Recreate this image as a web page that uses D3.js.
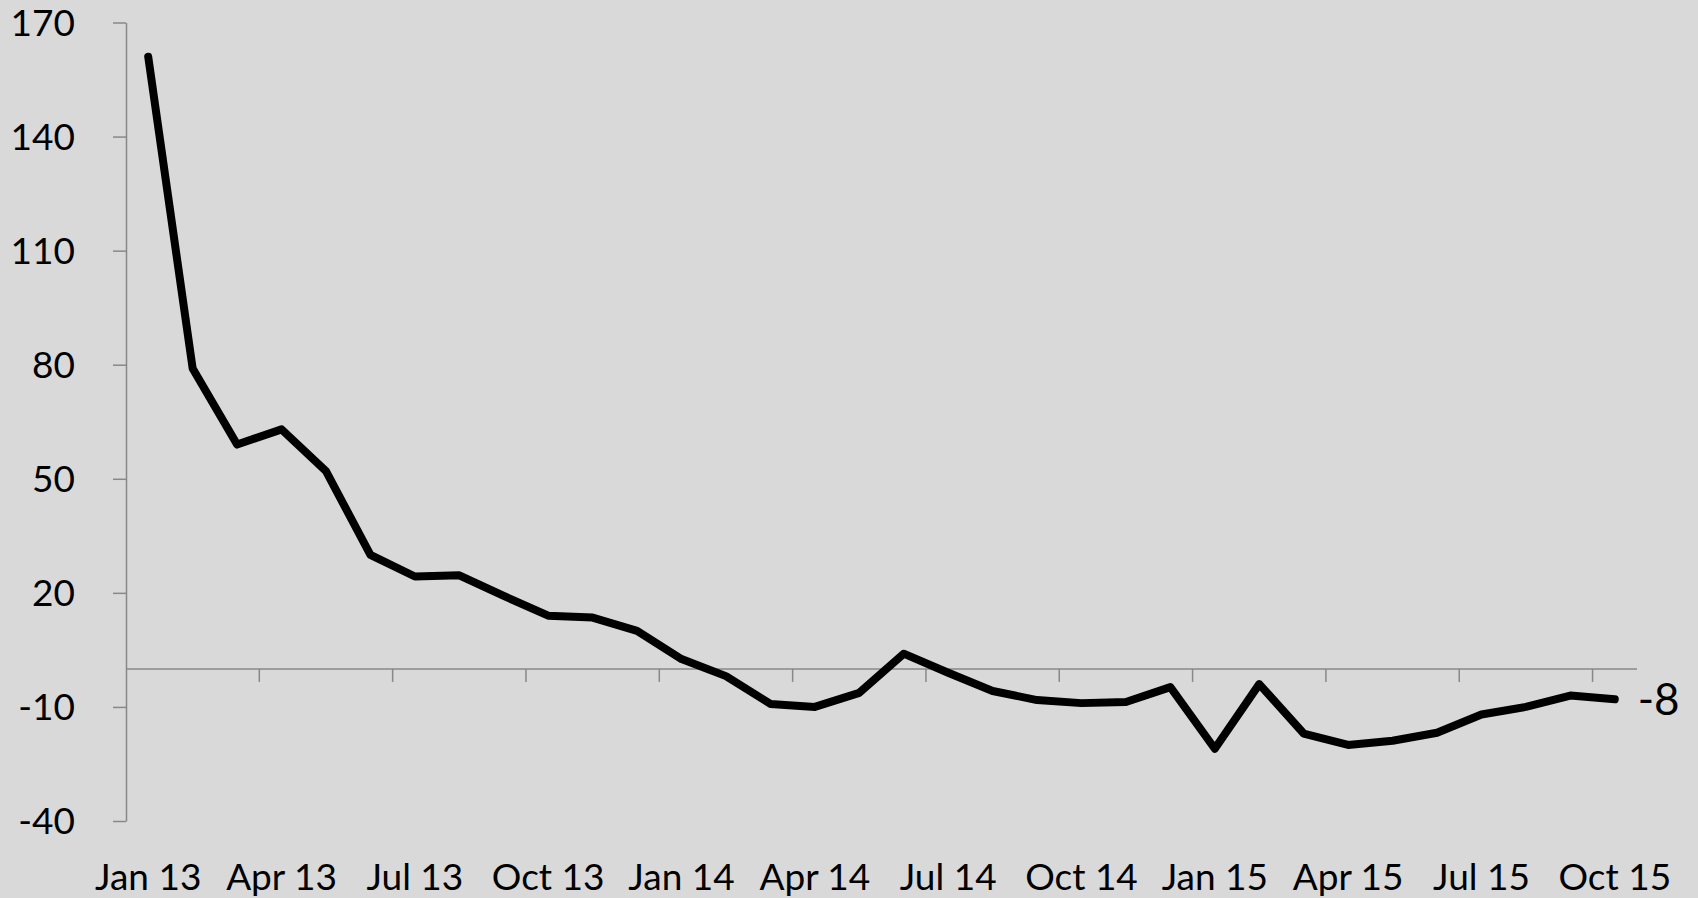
<!DOCTYPE html>
<html>
<head>
<meta charset="utf-8">
<script src="https://cdn.jsdelivr.net/npm/d3@7"></script>
<style>
	html, body { margin: 0; padding: 0; background: #d9d9d9; }
	svg { display: block; }
	text { font-family: Lato, "Open Sans", sans-serif; fill: #000; }
</style>
</head>
<body>
<div id="chart"></div>
<script>
// monthly categories, Jan 13 .. Oct 15
var months = [
	"Jan 13", "Feb 13", "Mar 13", "Apr 13", "May 13", "Jun 13", "Jul 13", "Aug 13", "Sep 13", "Oct 13", "Nov 13", "Dec 13",
	"Jan 14", "Feb 14", "Mar 14", "Apr 14", "May 14", "Jun 14", "Jul 14", "Aug 14", "Sep 14", "Oct 14", "Nov 14", "Dec 14",
	"Jan 15", "Feb 15", "Mar 15", "Apr 15", "May 15", "Jun 15", "Jul 15", "Aug 15", "Sep 15", "Oct 15"
];

var values = [
	161, 79, 59, 63, 52, 30, 24.3, 24.6, 19.2, 14, 13.5, 10,
	2.6, -1.9, -9.2, -10, -6.3, 4, -1, -5.8, -8.2, -9, -8.7, -4.8,
	-21, -4, -17, -20, -18.9, -16.8, -12, -10, -7, -8
];

var yTicks = [-40, -10, 20, 50, 80, 110, 140, 170];
var labelEvery = 3;

var width = 1698, height = 898;

// plain hyphen minus, like the original
function fmt(v) {
	return String(Math.round(v));
}

var svg = d3.select("#chart").append("svg")
	.attr("width", width)
	.attr("height", height);

var x = d3.scaleBand()
	.domain(months)
	.range([126, 1637])
	.padding(0);

var y = d3.scaleLinear()
	.domain([-40, 170])
	.range([821, 22.5]);

var axisColor = "#888888";

//纵轴
var yAxis = svg.append("g")
	.attr("transform", "translate(" + x.range()[0] + ",0)")
	.call(d3.axisLeft(y)
		.tickValues(yTicks)
		.tickFormat(fmt)
		.tickSize(13)
		.tickSizeOuter(0)
		.tickPadding(38));
yAxis.select(".domain").attr("stroke", axisColor).attr("stroke-width", 1.5);
yAxis.selectAll(".tick line").attr("stroke", axisColor).attr("stroke-width", 1.5);
yAxis.selectAll(".tick text")
	.attr("font-family", "Lato, 'Open Sans', sans-serif")
	.attr("font-size", 37)
	.attr("dy", "0.34em")
	.attr("fill", "#000");

//横轴 (at zero)
var xAxis = svg.append("g");
xAxis.append("line")
	.attr("x1", x.range()[0])
	.attr("x2", x.range()[1])
	.attr("y1", y(0))
	.attr("y2", y(0))
	.attr("stroke", axisColor)
	.attr("stroke-width", 1.5);

var tickMonths = months.filter(function (d, i) { return i > 0 && i % labelEvery === 0; });
xAxis.selectAll("line.tick")
	.data(tickMonths)
	.enter().append("line")
	.attr("class", "tick")
	.attr("x1", function (d) { return x(d); })
	.attr("x2", function (d) { return x(d); })
	.attr("y1", y(0))
	.attr("y2", y(0) + 13)
	.attr("stroke", axisColor)
	.attr("stroke-width", 1.5);

var labelMonths = months.filter(function (d, i) { return i % labelEvery === 0; });
svg.append("g").selectAll("text")
	.data(labelMonths)
	.enter().append("text")
	.attr("x", function (d) { return x(d) + x.bandwidth() / 2; })
	.attr("y", 890)
	.attr("text-anchor", "middle")
	.attr("font-size", 37)
	.text(function (d) { return d; });

//折线
var line = d3.line()
	.x(function (d, i) { return x(months[i]) + x.bandwidth() / 2; })
	.y(function (d) { return y(d); });

svg.append("path")
	.datum(values)
	.attr("d", line)
	.attr("fill", "none")
	.attr("stroke", "#000")
	.attr("stroke-width", 8)
	.attr("stroke-linejoin", "round")
	.attr("stroke-linecap", "round");

// last value label
var last = values.length - 1;
svg.append("text")
	.attr("x", x(months[last]) + x.bandwidth() / 2 + 23)
	.attr("y", y(values[last]))
	.attr("dy", "0.36em")
	.attr("font-size", 44)
	.text(fmt(values[last]));
</script>
</body>
</html>
